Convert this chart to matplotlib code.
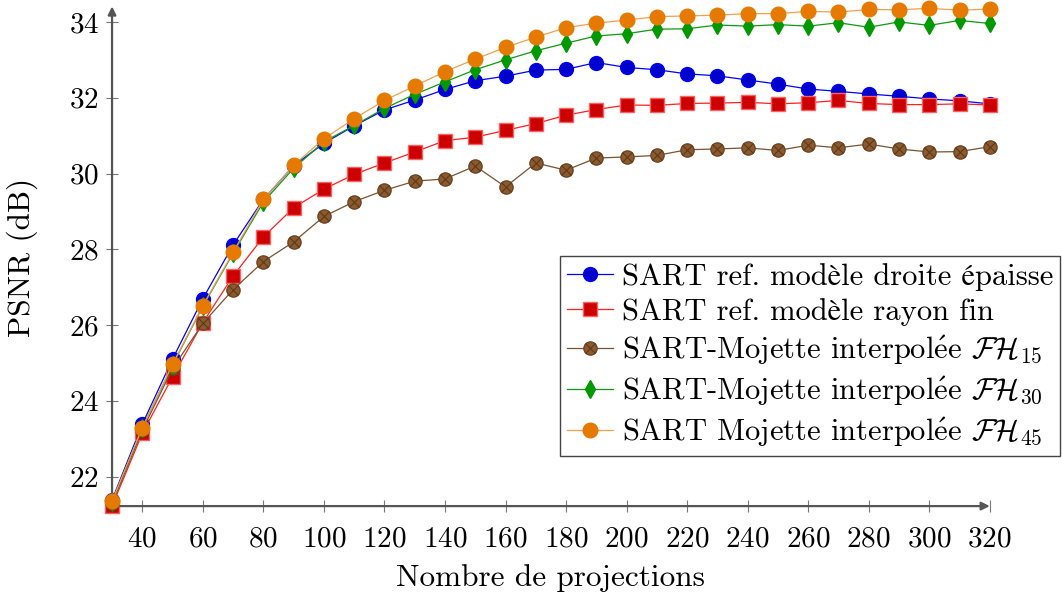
import matplotlib
matplotlib.use("Agg")
import matplotlib.pyplot as plt
from matplotlib.legend_handler import HandlerTuple

plt.rcParams['font.family'] = ['cmr10', 'STIXGeneral']
plt.rcParams['mathtext.fontset'] = 'cm'
plt.rcParams['axes.formatter.use_mathtext'] = True
plt.rcParams['font.size'] = 21

# nombre de projections
projections = list(range(30, 330, 10))

psnr_droite = [21.39, 23.39, 25.11, 26.70, 28.12, 29.32, 30.21, 30.80, 31.26, 31.68,
               31.94, 32.22, 32.45, 32.57, 32.73, 32.75, 32.93, 32.80, 32.74, 32.63,
               32.58, 32.47, 32.36, 32.23, 32.17, 32.10, 32.04, 31.97, 31.92, 31.84]
psnr_rayon = [21.23, 23.15, 24.64, 26.07, 27.30, 28.33, 29.10, 29.59, 29.98, 30.28,
              30.57, 30.87, 30.96, 31.14, 31.32, 31.54, 31.69, 31.81, 31.80, 31.85,
              31.86, 31.88, 31.84, 31.87, 31.93, 31.85, 31.82, 31.82, 31.84, 31.81]
psnr_fh15 = [21.30, 23.23, 24.86, 26.05, 26.94, 27.68, 28.20, 28.87, 29.26, 29.56,
             29.80, 29.86, 30.20, 29.65, 30.28, 30.09, 30.41, 30.44, 30.48, 30.63,
             30.65, 30.68, 30.61, 30.75, 30.68, 30.78, 30.65, 30.57, 30.58, 30.71]
psnr_fh30 = [21.35, 23.30, 24.95, 26.50, 27.90, 29.25, 30.14, 30.84, 31.27, 31.72,
             32.09, 32.42, 32.74, 33.00, 33.24, 33.44, 33.63, 33.69, 33.81, 33.82,
             33.92, 33.89, 33.93, 33.89, 33.98, 33.86, 34.00, 33.91, 34.04, 33.96]
psnr_fh45 = [21.36, 23.30, 24.97, 26.52, 27.93, 29.32, 30.22, 30.92, 31.45, 31.93,
             32.31, 32.69, 33.02, 33.33, 33.60, 33.85, 33.97, 34.05, 34.14, 34.16,
             34.18, 34.22, 34.22, 34.28, 34.26, 34.33, 34.32, 34.36, 34.31, 34.34]

e_aigu = r'$\mathrm{\acute{e}}$'
labels = ['SART ref. modèle droite épaisse',
          'SART ref. modèle rayon fin',
          'SART-Mojette interpol' + e_aigu + r'e $\mathcal{FH}_{15}$',
          'SART-Mojette interpol' + e_aigu + r'e $\mathcal{FH}_{30}$',
          'SART Mojette interpol' + e_aigu + r'e $\mathcal{FH}_{45}$']

fig = plt.figure(figsize=(10.62, 5.94), dpi=100)
ax = fig.add_axes([0.1055, 0.148, 0.8265, 0.838])

lw = 0.9
l1, = ax.plot(projections, psnr_droite, '-o', color='#0000ff', mfc='#0000cc', mec='#0000ff',
              ms=10, lw=lw, clip_on=False, zorder=3)
l2, = ax.plot(projections, psnr_rayon, '-s', color='#ff2020', mfc='#cc0000', mec='#ff6060',
              ms=9.5, lw=lw, clip_on=False, zorder=3)
l3, = ax.plot(projections, psnr_fh15, '-o', color='#7a5230', mfc='#8c5a2e', mec='#6b4423',
              ms=9.5, lw=lw, clip_on=False, zorder=3)
l3x, = ax.plot(projections, psnr_fh15, 'x', color='#5a3a1a', ms=7, mew=0.8,
               clip_on=False, zorder=3.1)
l4, = ax.plot(projections, psnr_fh30, '-d', color='#109910', mfc='#009900', mec='#009900',
              ms=9, lw=lw, clip_on=False, zorder=3.2)
l5, = ax.plot(projections, psnr_fh45, '-o', color='#f0a050', mfc='#e67a00', mec='#e67a00',
              ms=10.5, lw=lw, clip_on=False, zorder=3.3)

ymin, ymax = 21.23, 34.36
ax.set_xlim(30, 320)
ax.set_ylim(ymin, ymax)
ax.set_xticks(range(40, 340, 20))
ax.set_yticks(range(22, 36, 2))

for s in ax.spines.values():
    s.set_visible(False)
ax.tick_params(direction='inout', length=9, width=0.8, color='#777777')
ax.tick_params(axis='x', pad=10)
ax.tick_params(axis='y', pad=5)

# axes with arrows
ax.annotate('', xy=(320, ymin), xytext=(30, ymin), xycoords='data',
            arrowprops=dict(arrowstyle='-|>', color='#555555', lw=1.6,
                            mutation_scale=12, shrinkA=0, shrinkB=0), annotation_clip=False)
ax.annotate('', xy=(30, ymax + 0.05), xytext=(30, ymin), xycoords='data',
            arrowprops=dict(arrowstyle='-|>', color='#555555', lw=1.6,
                            mutation_scale=12, shrinkA=0, shrinkB=0), annotation_clip=False)

ax.set_xlabel('Nombre de projections', fontsize=22.5, labelpad=8)
ax.set_ylabel('PSNR (dB)', fontsize=22.5, labelpad=22)

leg = ax.legend([l1, l2, (l3, l3x), l4, l5], labels,
                handler_map={tuple: HandlerTuple(ndivide=1, pad=0)},
                loc='upper right', bbox_to_anchor=(0.998, 0.569),
                bbox_transform=fig.transFigure, fancybox=False, framealpha=1,
                edgecolor='#444444', handlelength=1.5, handletextpad=0.3,
                labelspacing=0.24, borderpad=0.22, borderaxespad=0, fontsize=22)
leg.get_frame().set_linewidth(1.0)
leg.set_zorder(5)

fig.savefig('out.png', dpi=100)
